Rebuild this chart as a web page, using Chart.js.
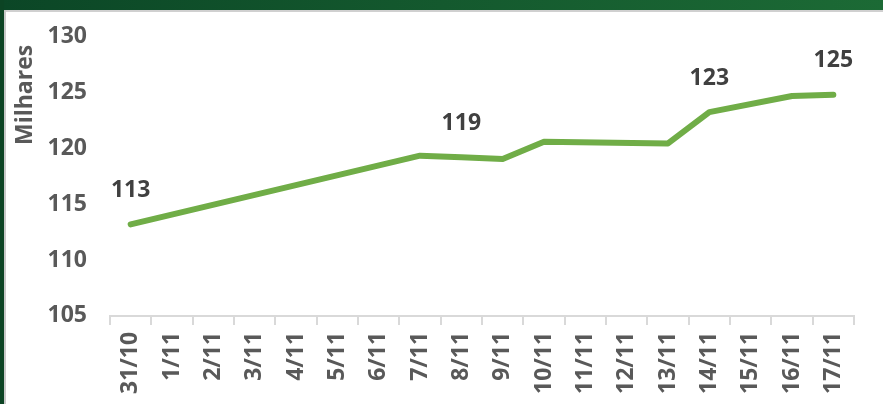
<!DOCTYPE html>
<html>
<head>
<meta charset="utf-8">
<script src="https://cdn.jsdelivr.net/npm/chart.js@4/dist/chart.umd.min.js"></script>
<style>
  html, body { margin: 0; padding: 0; background: #ffffff; }
  #wrap { position: relative; width: 883px; height: 404px; overflow: hidden; background: #fff; }
  #topbar { position: absolute; left: 0; top: 0; width: 883px; height: 10px;
            background: linear-gradient(to right, #0b4626, #14592e 50%, #1c6a35); z-index: 3; }
  #topline { position: absolute; left: 0; top: 10px; width: 883px; height: 2px; background: #d0d0d0; z-index: 3; }
  #leftbar { position: absolute; left: 0; top: 0; width: 4px; height: 404px; background: #0c4424; z-index: 3; }
  #leftline { position: absolute; left: 4px; top: 10px; width: 2px; height: 394px; background: #c8c8c8; z-index: 3; }
  #c { position: absolute; left: 0; top: 0; }
</style>
</head>
<body>
<div id="wrap">
  <canvas id="c" width="883" height="404"></canvas>
  <div id="topbar"></div>
  <div id="topline"></div>
  <div id="leftbar"></div>
  <div id="leftline"></div>
</div>
<script>
const categories = ["31/10","1/11","2/11","3/11","4/11","5/11","6/11","7/11","8/11","9/11","10/11","11/11","12/11","13/11","14/11","15/11","16/11","17/11"];
const values = [113.2, null, null, null, null, null, null, 119.35, 119.2, 119.05, 120.6, null, null, 120.45, 123.25, null, 124.7, 124.8];
const labeledIndices = [0, 8, 14, 17];
const yTicks = [105, 110, 115, 120, 125, 130];
const axisTitle = "Milhares";

const labelPlugin = {
  id: 'pointLabels',
  afterDatasetsDraw(chart) {
    const meta = chart.getDatasetMeta(0);
    const ctx = chart.ctx;
    ctx.save();
    ctx.font = 'bold 23px "Open Sans"';
    ctx.fillStyle = '#404040';
    ctx.textAlign = 'center';
    ctx.textBaseline = 'middle';
    labeledIndices.forEach(i => {
      const p = meta.data[i];
      if (!p || values[i] == null) return;
      ctx.fillText(String(Math.round(values[i])), p.x, p.y - 34);
    });
    ctx.restore();
  }
};

const titlePlugin = {
  id: 'yTitle',
  afterDraw(chart) {
    const ctx = chart.ctx;
    const area = chart.chartArea;
    ctx.save();
    ctx.font = 'bold 23px "Open Sans"';
    ctx.fillStyle = '#595959';
    ctx.textAlign = 'right';
    ctx.textBaseline = 'middle';
    ctx.translate(area.left - 85, area.top + 8);
    ctx.rotate(-Math.PI / 2);
    ctx.fillText(axisTitle, 0, 0);
    ctx.restore();
  }
};

new Chart(document.getElementById('c'), {
  type: 'line',
  data: {
    labels: categories,
    datasets: [{
      data: values,
      borderColor: '#70ad47',
      borderWidth: 6,
      borderCapStyle: 'round',
      borderJoinStyle: 'round',
      pointRadius: 0,
      pointHoverRadius: 0,
      tension: 0,
      spanGaps: true,
      fill: false
    }]
  },
  options: {
    responsive: false,
    animation: false,
    events: [],
    layout: { padding: { top: 20, right: 29, left: 12, bottom: 3 } },
    plugins: { legend: { display: false }, tooltip: { enabled: false } },
    scales: {
      x: {
        offset: true,
        grid: { display: true, drawOnChartArea: false, drawTicks: true, tickLength: 9, color: '#d9d9d9', lineWidth: 2, offset: true },
        border: { display: true, color: '#d9d9d9', width: 2 },
        ticks: {
          color: '#595959',
          font: { family: '"Open Sans"', weight: 'bold', size: 23 },
          maxRotation: 90, minRotation: 90, autoSkip: false, padding: 7
        }
      },
      y: {
        min: 105, max: 130,
        afterBuildTicks(scale) { scale.ticks = yTicks.map(v => ({ value: v })); },
        afterFit(scale) { scale.width = 98; },
        grid: { display: false, drawTicks: false },
        border: { display: false },
        ticks: {
          color: '#595959',
          font: { family: '"Open Sans"', weight: 'bold', size: 23 },
          padding: 23
        }
      }
    }
  },
  plugins: [labelPlugin, titlePlugin]
});
</script>
</body>
</html>
